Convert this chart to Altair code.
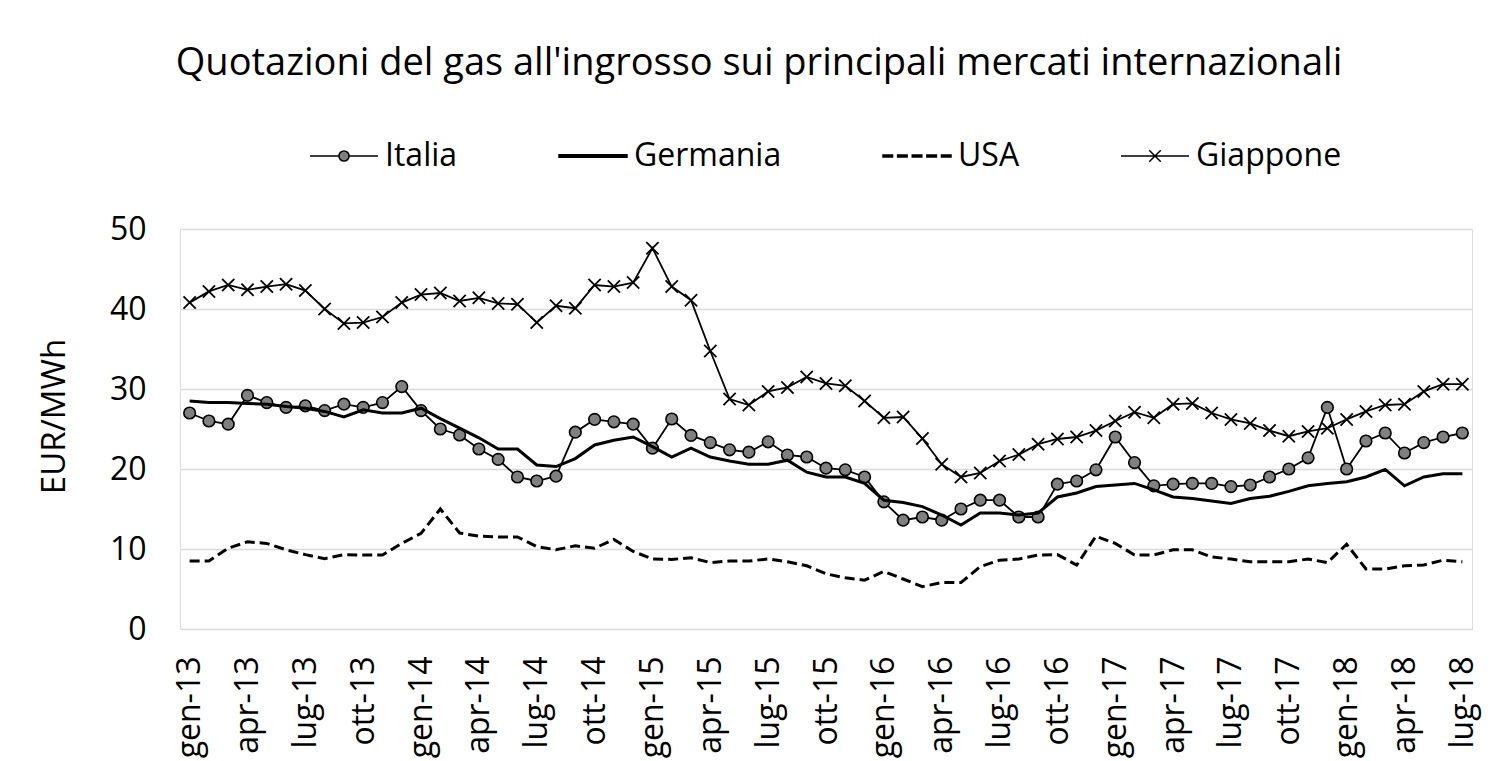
import altair as alt
import pandas as pd

MESI_IT = ["gen", "feb", "mar", "apr", "mag", "giu", "lug", "ago", "set", "ott", "nov", "dic"]
mesi = [f"{MESI_IT[m]}-{y}" for y in range(13, 19) for m in range(12)][:67]

italia = [27.0, 26.0, 25.6, 29.2, 28.3, 27.7, 27.9, 27.3, 28.1, 27.7, 28.3, 30.3,
          27.3, 25.0, 24.25, 22.5, 21.2, 19.0, 18.5, 19.1, 24.6, 26.2, 25.9, 25.6,
          22.6, 26.25, 24.2, 23.3, 22.4, 22.1, 23.4, 21.75, 21.5, 20.1, 19.9, 19.0,
          15.9, 13.6, 14.0, 13.6, 15.0, 16.1, 16.1, 14.0, 14.0, 18.1, 18.5, 19.9,
          24.0, 20.8, 17.9, 18.1, 18.2, 18.2, 17.8, 18.0, 19.0, 20.0, 21.4, 27.7,
          20.0, 23.5, 24.5, 22.0, 23.3, 24.0, 24.5]

germania = [28.5, 28.3, 28.3, 28.2, 28.1, 27.8, 27.6, 27.2, 26.5, 27.4, 27.0, 27.0,
            27.6, 26.3, 25.1, 23.9, 22.5, 22.5, 20.5, 20.3, 21.3, 23.0, 23.6, 24.0,
            22.8, 21.5, 22.6, 21.5, 21.0, 20.6, 20.6, 21.1, 19.6, 19.0, 19.0, 18.2,
            16.1, 15.8, 15.3, 14.25, 13.0, 14.5, 14.5, 14.25, 14.5, 16.5, 17.0, 17.8,
            18.0, 18.2, 17.4, 16.5, 16.3, 16.0, 15.7, 16.3, 16.6, 17.2, 17.9, 18.2,
            18.4, 19.0, 19.95, 17.9, 19.0, 19.4, 19.4]

usa = [8.5, 8.5, 10.1, 10.9, 10.7, 9.9, 9.3, 8.8, 9.3, 9.25, 9.25, 10.7,
       11.96, 15.0, 12.0, 11.6, 11.5, 11.5, 10.3, 9.9, 10.4, 10.1, 11.2, 9.7,
       8.75, 8.7, 8.9, 8.3, 8.5, 8.5, 8.75, 8.4, 7.9, 6.9, 6.4, 6.1,
       7.2, 6.25, 5.3, 5.8, 5.8, 7.8, 8.6, 8.75, 9.25, 9.3, 8.0, 11.6,
       10.7, 9.25, 9.25, 9.9, 9.9, 9.0, 8.75, 8.4, 8.4, 8.4, 8.75, 8.3,
       10.6, 7.5, 7.5, 7.9, 8.0, 8.6, 8.4]

giappone = [40.8, 42.2, 43.0, 42.4, 42.8, 43.1, 42.3, 40.0, 38.2, 38.3, 39.0, 40.8,
            41.8, 42.0, 41.0, 41.4, 40.7, 40.6, 38.3, 40.4, 40.1, 43.0, 42.8, 43.3,
            47.6, 42.8, 41.1, 34.75, 28.75, 28.0, 29.7, 30.2, 31.5, 30.7, 30.4, 28.5,
            26.4, 26.5, 23.8, 20.6, 19.0, 19.5, 21.0, 21.8, 23.1, 23.75, 24.0, 24.8,
            26.0, 27.1, 26.4, 28.1, 28.2, 27.0, 26.2, 25.7, 24.8, 24.1, 24.7, 25.1,
            26.2, 27.2, 28.0, 28.1, 29.7, 30.6, 30.6]

serie = ["Italia", "Germania", "USA", "Giappone"]
valori = {"Italia": italia, "Germania": germania, "USA": usa, "Giappone": giappone}

rows = []
for s in serie:
    for m, v in zip(mesi, valori[s]):
        rows.append({"mese": m, "serie": s, "valore": v})
df = pd.DataFrame(rows)

FONT = "Open Sans"

x_enc = alt.X("mese:O", sort=mesi,
              scale=alt.Scale(type="point", padding=0.5),
              axis=alt.Axis(values=mesi[::3], title=None, labelAngle=-90,
                            labelFontSize=32, labelFont=FONT, labelColor="black",
                            domain=False, ticks=False, grid=False, labelPadding=27))
y_enc = alt.Y("valore:Q", scale=alt.Scale(domain=[0, 50], nice=False),
              axis=alt.Axis(values=[0, 10, 20, 30, 40, 50], title="EUR/MWh",
                            labelFontSize=32, labelFont=FONT, labelColor="black",
                            titleFontSize=33, titleFont=FONT, titleFontWeight="normal",
                            titleColor="black", titlePadding=38, titleY=187,
                            domain=False, ticks=False, labelPadding=34,
                            grid=True, gridColor="#D9D9D9", gridWidth=1.3))

base = alt.Chart(df).encode(x=x_enc, y=y_enc)

it_line = base.transform_filter(alt.datum.serie == "Italia").mark_line(color="black", strokeWidth=1.8)
it_pts = base.transform_filter(alt.datum.serie == "Italia").mark_point(
    shape="circle", filled=True, fill="#808080", stroke="black", strokeWidth=1.6, size=135, opacity=1)
de_line = base.transform_filter(alt.datum.serie == "Germania").mark_line(color="black", strokeWidth=3)
us_line = base.transform_filter(alt.datum.serie == "USA").mark_line(color="black", strokeWidth=3, strokeDash=[10, 5])
jp_line = base.transform_filter(alt.datum.serie == "Giappone").mark_line(color="black", strokeWidth=1.8)
jp_pts = base.transform_filter(alt.datum.serie == "Giappone").mark_point(
    shape="M-1,-1L1,1M1,-1L-1,1", size=150, stroke="black", strokeWidth=1.8, filled=False, opacity=1)

# legend symbols (custom paths)
sym_italia = "M-1,0H-0.15M0.15,0H1M-0.15,0A0.15,0.15,0,1,1,0.15,0A0.15,0.15,0,1,1,-0.15,0Z"
sym_germ = "M-1,-0.035H1V0.035H-1Z"
sym_usa = ("M-1,-0.03H-0.72V0.03H-1Z M-0.57,-0.03H-0.29V0.03H-0.57Z M-0.14,-0.03H0.14V0.03H-0.14Z "
           "M0.29,-0.03H0.57V0.03H0.29Z M0.72,-0.03H1V0.03H0.72Z")
sym_jp = "M-1,0H1M-0.17,-0.17L0.17,0.17M0.17,-0.17L-0.17,0.17"

leg = alt.Legend(title=None, orient="none", legendX=129, legendY=-108, direction="horizontal",
                 symbolSize=68 * 68, symbolStrokeWidth=1.5, symbolStrokeColor="black",
                 labelFontSize=32, labelFont=FONT, labelColor="black", labelOffset=6,
                 columnPadding=98, symbolOffset=0, padding=0)

legend_layer = alt.Chart(df).transform_filter("false").mark_point(
    filled=True, strokeWidth=1.5, opacity=1).encode(
    shape=alt.Shape("serie:N", scale=alt.Scale(domain=serie, range=[sym_italia, sym_germ, sym_usa, sym_jp]), legend=leg),
    fill=alt.Fill("serie:N", scale=alt.Scale(domain=serie, range=["#808080", "black", "black", "black"]), legend=leg),
    stroke=alt.Stroke("serie:N", scale=alt.Scale(domain=serie, range=["black", "black", "black", "black"]), legend=leg),
)

chart = alt.layer(it_line, it_pts, de_line, us_line, jp_line, jp_pts, legend_layer).properties(
    width=1292, height=400,
    title=alt.TitleParams(text="Quotazioni del gas all'ingrosso sui principali mercati internazionali",
                          font=FONT, fontSize=38, fontWeight="normal", color="black",
                          anchor="middle", frame="group", dx=-67, offset=38),
    autosize=alt.AutoSizeParams(type="none"),
    padding={"left": 172, "top": 221, "right": 11, "bottom": 132},
).configure_view(stroke=None).configure(background="white")

chart.save("out.html", embed_options={"renderer": "svg", "actions": False})
